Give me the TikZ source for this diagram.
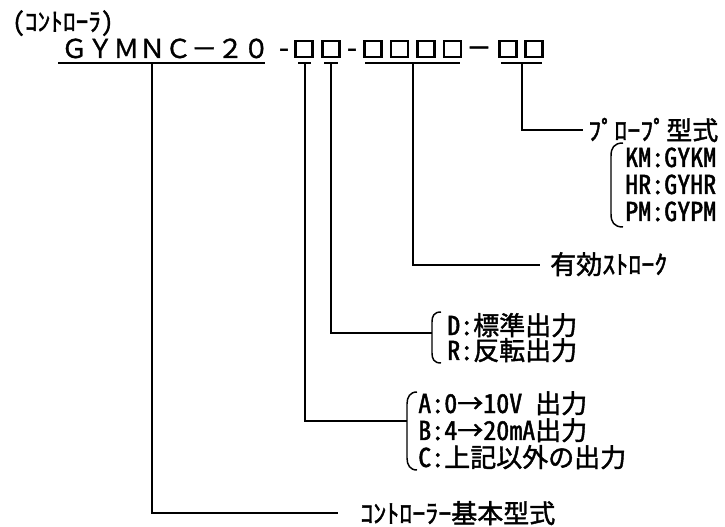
\documentclass[tikz,border=0pt]{standalone}
\usepackage{fontspec}
\setmainfont{Noto Sans CJK JP}
\newfontfamily\hw[RawFeature=+hwid,FakeBold=1.6]{Noto Sans CJK JP}
\newfontfamily\fw[FakeBold=1.2]{Noto Sans CJK JP}
\begin{document}
\begin{tikzpicture}[x=0.75pt,y=-0.75pt,
  lbl/.style={anchor=base west,inner sep=0pt,font=\hw\fontsize{19.5}{20}\selectfont},
  dashtxt/.style={anchor=base,inner sep=0pt,font=\hw\fontsize{19}{20}\selectfont},
  conn/.style={line width=1.1pt},
  ul/.style={line width=1.6pt},
  box/.style={draw,line width=1.6pt,minimum width=12.8pt,minimum height=12.3pt,inner sep=0pt},
  brk/.style={line width=1.1pt}]
\useasboundingbox (0,0) rectangle (725,527);

% title and code
\node[lbl,font=\hw\fontsize{19}{20}\selectfont] (title) at (12,31) {(ｺﾝﾄﾛｰﾗ)};
\node[anchor=base west,inner sep=0pt,font=\fw\fontsize{19.5}{20}\selectfont] (code) at (61,58) {ＧＹＭＮＣ－２０};
\node[dashtxt] (d1) at (284,57) {-};
\node[box] (b1) at (304,49) {};
\node[box] (b2) at (331,49) {};
\node[dashtxt] (d2) at (352,57) {-};
\node[box] (b3) at (373,49) {};
\node[box] (b4) at (399.5,49) {};
\node[box] (b5) at (426,49) {};
\node[box] (b6) at (452.5,49) {};
\node[anchor=base,inner sep=0pt,font=\fw\fontsize{19}{20}\selectfont] (d3) at (479,57) {－};
\node[box] (b7) at (508,49) {};
\node[box] (b8) at (534,49) {};

% underlines
\coordinate (u0a) at (58,63);  \coordinate (u0b) at (265,63);
\coordinate (u1a) at (298,63); \coordinate (u1b) at (311,63);
\coordinate (u2a) at (324,63); \coordinate (u2b) at (338,63);
\coordinate (u3a) at (365,63); \coordinate (u3b) at (460,63);
\coordinate (u4a) at (501,63); \coordinate (u4b) at (542,63);
\draw[ul] (u0a) -- (u0b);
\draw[ul] (u1a) -- (u1b);
\draw[ul] (u2a) -- (u2b);
\draw[ul] (u3a) -- (u3b);
\draw[ul] (u4a) -- (u4b);

% tap points
\coordinate (t0) at (152,63);
\coordinate (t1) at (305,63);
\coordinate (t2) at (331,63);
\coordinate (t3) at (413,63);
\coordinate (t4) at (522,63);

% ends
\coordinate (e0) at (338,513);
\coordinate (e1) at (407,421);
\coordinate (e2) at (432,333);
\coordinate (e3) at (540,265);
\coordinate (e4) at (583,130);

\draw[conn] (t0) |- (e0);
\draw[conn] (t1) |- (e1);
\draw[conn] (t2) |- (e2);
\draw[conn] (t3) |- (e3);
\draw[conn] (t4) |- (e4);

% labels
\node[lbl] (probe) at (588,140) {ﾌﾟﾛｰﾌﾟ型式};
\node[lbl] (km) at (625,167) {KM:GYKM};
\node[lbl] (hr) at (625,194) {HR:GYHR};
\node[lbl] (pm) at (625,221) {PM:GYPM};
\draw[brk] (623,143) .. controls (614,143) and (611,148) .. (611,156) -- (611,214) .. controls (611,222) and (614,227) .. (623,227);

\node[lbl] (stroke) at (550,274) {有効ｽﾄﾛｰｸ};

\node[lbl] (dd) at (447,335) {D:標準出力};
\node[lbl] (rr) at (447,360) {R:反転出力};
\draw[brk] (441,312) .. controls (434,312) and (432,316) .. (432,322) -- (432,353) .. controls (432,359) and (434,363) .. (441,363);

\node[lbl] (aa) at (418,413) {A:0→10V 出力};
\node[lbl] (bb) at (418,440) {B:4→20mA出力};
\node[lbl] (cc) at (418,467) {C:上記以外の出力};
\draw[brk] (417,392) .. controls (410,392) and (407,397) .. (407,404) -- (407,458) .. controls (407,465) and (410,470) .. (417,470);

\node[lbl] (base) at (360,523) {ｺﾝﾄﾛｰﾗｰ基本型式};
\end{tikzpicture}
\end{document}
